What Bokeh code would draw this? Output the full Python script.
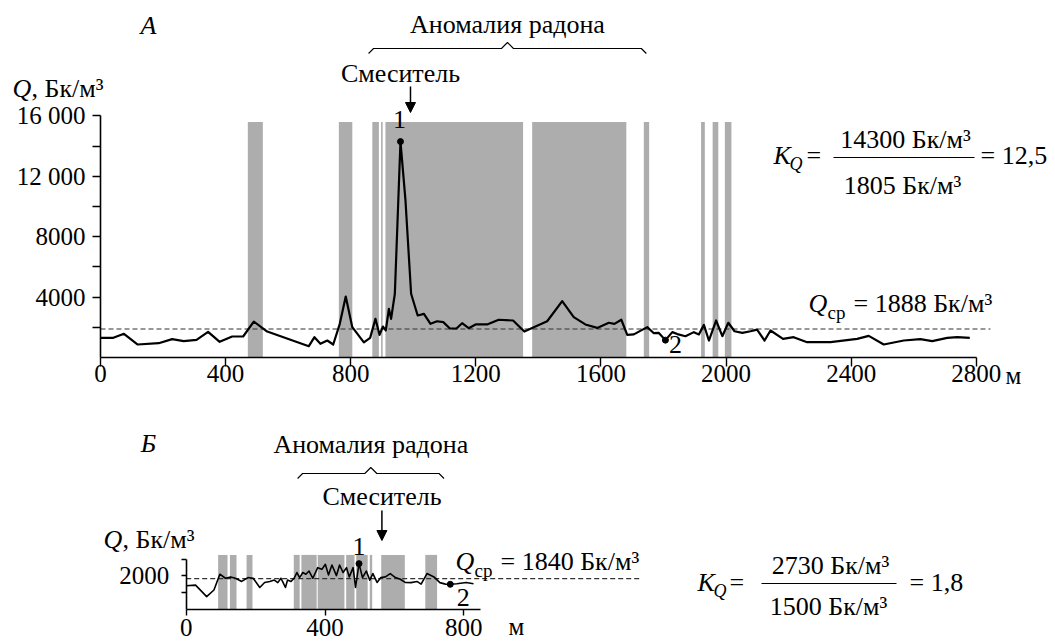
from bokeh.plotting import figure
from bokeh.models import Range1d, FixedTicker, Label, Arrow, NormalHead, LinearAxis
from bokeh.embed import file_html
from bokeh.resources import INLINE

# ---------------- data: panel А ----------------
a_dist = [0, 41, 75, 119, 186, 229, 266, 307, 344, 381, 421, 456, 490, 533, 666, 684,
          703, 725, 744, 765, 784, 805, 842, 862, 879, 892, 903, 912, 922, 929, 941,
          959, 975, 993, 1014, 1034, 1055, 1076, 1096, 1117, 1138, 1156, 1177, 1199,
          1236, 1273, 1319, 1355, 1428, 1476, 1513, 1550, 1588, 1625, 1643, 1665, 1684,
          1705, 1748, 1769, 1785, 1806, 1828, 1844, 1870, 1897, 1913, 1929, 1945, 1968,
          1988, 2007, 2027, 2052, 2078, 2099, 2123, 2142, 2182, 2216, 2259, 2334, 2419,
          2456, 2504, 2568, 2621, 2659, 2707, 2739, 2779]
a_q = [1305, 1305, 1570, 860, 947, 1214, 1080, 1170, 1700, 1040, 1390, 1390, 2380, 1720,
       750, 1345, 905, 1125, 860, 2230, 4040, 2010, 1000, 1300, 2560, 1500, 2050, 1790,
       3220, 2560, 4220, 14300, 10400, 4220, 2780, 2890, 2230, 2400, 2340, 1920, 1920,
       2270, 1940, 2190, 2190, 2500, 2450, 1720, 2400, 3730, 2670, 2190, 1960, 2300,
       2230, 2500, 1500, 1530, 2010, 1610, 1630, 1150, 1680, 1550, 1410, 1680, 1530,
       2160, 1125, 2450, 1410, 2300, 1740, 1630, 1740, 1850, 1125, 1790, 1235, 1345,
       1015, 1015, 1235, 1435, 860, 1125, 1215, 1080, 1300, 1345, 1300]
a_band_start = [471, 762, 869, 897, 911, 1380, 1737, 1920, 1957, 1996]
a_band_end = [519, 805, 890, 902, 1351, 1681, 1754, 1932, 1975, 2017]
a_band_top = 15600
a_mean = 1888
a_mean_extent = [0, 2845]
a_points = [959, 1806]          # точки 1 и 2
a_anomaly = [857, 1745]
a_fault = 991
a_xticks = [0, 400, 800, 1200, 1600, 2000, 2400, 2800]
a_yticks = [4000, 8000, 12000, 16000]
a_yminor = [2000, 6000, 10000, 14000]
a_ylabels = {16000: "16 000", 12000: "12 000", 8000: "8000", 4000: "4000"}

# ---------------- data: panel Б ----------------
b_dist = [0, 27, 59, 80, 97, 113, 128, 142, 160, 178, 193, 212, 226, 241, 254, 264, 273,
          279, 286, 292, 302, 311, 319, 327, 336, 345, 354, 365, 379, 391, 401, 410, 420,
          433, 442, 452, 462, 470, 481, 488, 498, 508, 519, 529, 538, 550, 561, 574, 588,
          603, 617, 631, 648, 665, 677, 694, 714, 731, 747, 761, 780, 807, 828]
b_q = [1410, 1450, 765, 1160, 2100, 1860, 1940, 1860, 1670, 1900, 1860, 1310, 1610, 1670,
       1750, 1600, 1860, 1610, 1310, 1750, 1670, 1860, 2200, 1900, 2200, 2100, 2290, 1860,
       2490, 2390, 2690, 2060, 2650, 2020, 2650, 2200, 2490, 1940, 2490, 1310, 2730, 1900,
       2290, 1750, 2140, 1610, 1900, 1940, 2140, 1900, 1800, 1610, 1600, 1670, 1510, 2140,
       1940, 1600, 1510, 1500, 1530, 1610, 1530]
b_band_start = [92, 126, 174, 310, 332, 379, 461, 490, 529, 562, 689]
b_band_end = [119, 145, 191, 327, 376, 456, 485, 523, 536, 630, 723]
b_band_top = 3250
b_mean = 1840
b_mean_extent = [0, 1314]
b_points = [498, 761]
b_anomaly = [321, 743]
b_fault = 564
b_xticks = [0, 400, 800]
b_xaxis_end = 848
b_yticks = [2000]
b_yminor = [1000, 3000]

FONT = "Liberation Serif"
GRAY = "#adadad"
W, H = 1055, 643
BASE_SHIFT = 0.35   # em offset of Bokeh's alphabetic baseline placement

# ---------------- geometry (page px) ----------------
A_LEFT, A_BOTTOM, A_SX, A_SY = 100.0, 357.0, 0.3128, 0.0151
B_LEFT, B_BOTTOM, B_SX, B_SY = 185.7, 609.0, 0.347, 0.0168


def ax(px):
    return (px - A_LEFT) / A_SX


def ay(py):
    return (A_BOTTOM - py) / A_SY


def bx(px):
    return (px - B_LEFT) / B_SX


def by(py):
    return (B_BOTTOM - py) / B_SY


p = figure(width=W, height=H, title=None, x_axis_type=None, y_axis_type=None,
           x_range=Range1d(ax(0), ax(W)), y_range=Range1d(ay(H), ay(0)),
           output_backend="svg", toolbar_location=None,
           min_border_left=0, min_border_right=0, min_border_top=0, min_border_bottom=0)
p.extra_x_ranges = {"xb": Range1d(bx(0), bx(W))}
p.extra_y_ranges = {"yb": Range1d(by(H), by(0))}
p.outline_line_color = None
p.background_fill_color = "white"
p.border_fill_color = "white"
p.grid.visible = False

RB = dict(x_range_name="xb", y_range_name="yb")


def style_axis(a, tick, standoff):
    a.axis_line_color = "black"
    a.axis_line_width = 1.6
    a.major_tick_line_color = "black"
    a.minor_tick_line_color = "black"
    a.major_tick_line_width = 1.4
    a.minor_tick_line_width = 1.4
    a.major_tick_in = 0
    a.minor_tick_in = 0
    a.major_tick_out = tick
    a.minor_tick_out = tick
    a.major_label_standoff = standoff
    a.major_label_text_font = FONT
    a.major_label_text_font_size = "25px"
    a.major_label_text_color = "black"


# axes of panel A
xa = LinearAxis(fixed_location=0, ticker=FixedTicker(ticks=a_xticks, minor_ticks=[]),
                bounds=(a_xticks[0], a_xticks[-1]))
style_axis(xa, 9, -2)
p.add_layout(xa, "below")
ya = LinearAxis(fixed_location=0, ticker=FixedTicker(ticks=a_yticks, minor_ticks=a_yminor),
                bounds=(0, a_yticks[-1]), major_label_overrides=a_ylabels)
style_axis(ya, 8, 7)
p.add_layout(ya, "left")
# axes of panel B
xb = LinearAxis(fixed_location=0, ticker=FixedTicker(ticks=b_xticks, minor_ticks=[]),
                bounds=(0, b_xaxis_end), **RB)
style_axis(xb, 6, 3)
p.add_layout(xb, "below")
yb = LinearAxis(fixed_location=0, ticker=FixedTicker(ticks=b_yticks, minor_ticks=b_yminor),
                bounds=(0, b_yminor[-1]), **RB)
style_axis(yb, 5, 12)
p.add_layout(yb, "left")


def lab(px, py, text, size=26, style="normal", align="left", panel="A", x=None):
    """Text label placed by its page baseline position."""
    py = py - BASE_SHIFT * size
    if panel == "A":
        xx = ax(px) if x is None else x
        p.add_layout(Label(x=xx, y=ay(py), text=text, text_font=FONT,
                           text_font_size=f"{size}px", text_font_style=style,
                           text_align=align, text_baseline="alphabetic",
                           text_color="black"))
    else:
        xx = bx(px) if x is None else x
        p.add_layout(Label(x=xx, y=by(py), text=text, text_font=FONT,
                           text_font_size=f"{size}px", text_font_style=style,
                           text_align=align, text_baseline="alphabetic",
                           text_color="black", **RB))


def brace(x0, x1, y_line, sx, sy, rb=False, hook=5, peak=6):
    kw = RB if rb else {}
    mid = (x0 + x1) / 2
    xs = [x0, x0 + hook / sx, mid - 6 / sx, mid, mid + 6 / sx, x1 - hook / sx, x1]
    ys = [y_line - hook / sy, y_line, y_line, y_line + peak / sy, y_line, y_line,
          y_line - hook / sy]
    p.line(xs, ys, line_color="black", line_width=1.1, **kw)


def arrow(x, y0, y1, rb=False):
    kw = RB if rb else {}
    p.add_layout(Arrow(end=NormalHead(size=10, fill_color="black", line_color="black",
                                      line_width=1),
                       x_start=x, y_start=y0, x_end=x, y_end=y1,
                       line_color="black", line_width=1.5, **kw))


# ================= PANEL A =================
p.quad(left=a_band_start, right=a_band_end, bottom=0, top=a_band_top,
       fill_color=GRAY, line_color=None)
p.line(a_mean_extent, [a_mean, a_mean], line_color="#333333", line_width=1.2,
       line_dash="5 3")
p.line(a_dist, a_q, line_color="black", line_width=2.2, line_join="round")
p.scatter(a_points, [a_q[a_dist.index(v)] for v in a_points],
          size=6, fill_color="black", line_color="black")

lab(148, 34, "А", style="italic", align="center")
lab(0, 33, "Аномалия радона", align="center", x=(a_anomaly[0] + a_anomaly[1]) / 2)
brace(a_anomaly[0], a_anomaly[1], ay(48), A_SX, A_SY)
lab(400, 82, "Смеситель", align="center")
arrow(a_fault, ay(86), ay(112))
lab(0, 128, "1", align="center", x=a_points[0] - 1 / A_SX)
lab(0, 353, "2", align="center", x=a_points[1] + 10 / A_SX)
lab(12, 97, "Q", style="italic")
lab(31, 97, ", Бк/м³")
lab(1005, 384, "м", size=25)
lab(808, 312, "Q", style="italic")
lab(827, 319, "ср", size=19)
lab(853, 312, "= 1888 Бк/м³")
lab(773, 164, "K", style="italic")
lab(789, 170, "Q", size=18, style="italic")
lab(806, 164, "=")
lab(905, 148, "14300 Бк/м³", align="center")
p.line([ax(833), ax(974)], [ay(157), ay(157)], line_color="black", line_width=1.2)
lab(902, 194, "1805 Бк/м³", align="center")
lab(980, 164, "= 12,5")

# ================= PANEL B =================
p.quad(left=b_band_start, right=b_band_end, bottom=0, top=b_band_top,
       fill_color=GRAY, line_color=None, **RB)
p.line(b_mean_extent, [b_mean, b_mean], line_color="#333333", line_width=1.2,
       line_dash="5 3", **RB)
p.line(b_dist, b_q, line_color="black", line_width=1.6, line_join="round", **RB)
p.scatter(b_points, [b_q[b_dist.index(v)] for v in b_points],
          size=6, fill_color="black", line_color="black", **RB)

lab(148, 452, "Б", style="italic", align="center", panel="B")
lab(0, 453, "Аномалия радона", align="center", panel="B",
    x=(b_anomaly[0] + b_anomaly[1]) / 2)
brace(b_anomaly[0], b_anomaly[1], by(473), B_SX, B_SY, rb=True)
lab(381.5, 505, "Смеситель", align="center", panel="B")
arrow(b_fault, by(510), by(540), rb=True)
lab(0, 555, "1", align="center", panel="B", x=b_points[0])
lab(0, 606, "2", align="center", panel="B", x=b_points[1] + 13 / B_SX)
lab(103, 548, "Q", style="italic", panel="B")
lab(122, 548, ", Бк/м³", panel="B")
lab(508, 635, "м", size=25, panel="B")
lab(455, 570, "Q", style="italic", panel="B")
lab(474, 577, "ср", size=19, panel="B")
lab(500, 570, "= 1840 Бк/м³", panel="B")
lab(697, 591, "K", style="italic", panel="B")
lab(713, 597, "Q", size=18, style="italic", panel="B")
lab(729, 591, "=", panel="B")
lab(830, 574, "2730 Бк/м³", align="center", panel="B")
p.line([bx(761), bx(896)], [by(583), by(583)], line_color="black", line_width=1.2, **RB)
lab(828, 615, "1500 Бк/м³", align="center", panel="B")
lab(909, 591, "= 1,8", panel="B")

open("out.html", "w").write(file_html(p, INLINE))
